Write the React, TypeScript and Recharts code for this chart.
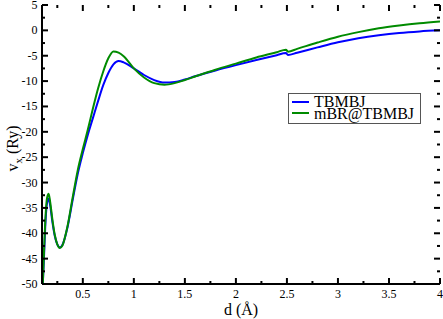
import { LineChart, Line, XAxis, YAxis, Legend } from 'recharts'

const D = [0.108, 0.12, 0.135, 0.15, 0.165, 0.18, 0.2, 0.225, 0.25, 0.275, 0.3, 0.35, 0.4, 0.45, 0.5, 0.55, 0.6, 0.65, 0.7, 0.75, 0.8, 0.85, 0.9, 1.0, 1.1, 1.2, 1.3, 1.4, 1.5, 1.6, 1.8, 2.0, 2.2, 2.4, 2.49, 2.51, 2.6, 2.8, 3.0, 3.2, 3.4, 3.6, 3.8, 4.0]

const TBMBJ = [-50, -44.5, -37.5, -34, -33.2, -34.5, -37.5, -40.5, -42.2, -42.8, -42.3, -38.8, -33.5, -28.3, -24.2, -20.5, -17.2, -13.9, -10.8, -8.4, -6.7, -6.05, -6.3, -7.5, -8.8, -9.8, -10.3, -10.2, -9.7, -9.05, -7.9, -6.85, -5.85, -4.9, -4.45, -4.85, -4.4, -3.35, -2.35, -1.55, -0.95, -0.5, -0.2, 0]

const MBR = [-50, -43.5, -36.5, -33, -32.2, -33.8, -37, -40.3, -42.2, -42.9, -42.4, -38.6, -33, -27.6, -23.4, -19.5, -15.3, -11.4, -8.1, -5.5, -4.15, -4.4, -5.1, -7.5, -9.3, -10.4, -10.7, -10.4, -9.8, -9.1, -7.75, -6.55, -5.35, -4.3, -3.8, -4.2, -3.65, -2.4, -1.25, -0.35, 0.4, 0.95, 1.4, 1.75]

const X_TICKS = [0.25, 0.5, 0.75, 1, 1.25, 1.5, 1.75, 2, 2.25, 2.5, 2.75, 3, 3.25, 3.5, 3.75, 4]
const Y_TICKS = [-50, -47.5, -45, -42.5, -40, -37.5, -35, -32.5, -30, -27.5, -25, -22.5, -20, -17.5, -15, -12.5, -10, -7.5, -5, -2.5, 0, 2.5, 5]

const SERIES = [
  { key: 'tbmbj', name: 'TBMBJ', color: '#0000ff' },
  { key: 'mbr', name: 'mBR@TBMBJ', color: '#008b00' },
]

const W = 443
const H = 319
const TOP = 5
const LEFT = 42
const RIGHT = 440
const FONT = '"Liberation Serif", "Times New Roman", serif'

const data = D.map((d, i) => ({ d, tbmbj: TBMBJ[i], mbr: MBR[i] }))

const isMajor = (v: number, step: number) => Math.abs(v / step - Math.round(v / step)) < 1e-6

function XTick({ x, y, payload }: any) {
  const v = payload.value
  const major = isMajor(v, 0.5)
  const len = major ? 6 : 3
  return (
    <g>
      <line x1={x} x2={x} y1={y} y2={y - len} stroke="#000" strokeWidth={2} />
      <line x1={x} x2={x} y1={TOP} y2={TOP + len} stroke="#000" strokeWidth={2} />
      {major && (
        <text x={x} y={y + 13.5} textAnchor="middle" fontSize={12} fontFamily={FONT} fill="#000">
          {String(v)}
        </text>
      )}
    </g>
  )
}

function YTick({ x, y, payload }: any) {
  const v = payload.value
  const major = isMajor(v, 5)
  const len = major ? 6 : 3
  return (
    <g>
      <line x1={x} x2={x + len} y1={y} y2={y} stroke="#000" strokeWidth={2} />
      <line x1={RIGHT - len} x2={RIGHT} y1={y} y2={y} stroke="#000" strokeWidth={2} />
      {major && (
        <text x={x - 4.5} y={y + 4} textAnchor="end" fontSize={12} fontFamily={FONT} fill="#000">
          {String(v)}
        </text>
      )}
    </g>
  )
}

function YLabel({ viewBox }: any) {
  const cy = viewBox.y + viewBox.height / 2 + 4
  const cx = 17.5
  return (
    <text
      x={cx}
      y={cy}
      transform={`rotate(-90, ${cx}, ${cy})`}
      textAnchor="middle"
      fontSize={16}
      fontFamily={FONT}
      fill="#000"
    >
      v<tspan fontSize={11} dy={4}>x</tspan>
      <tspan dy={-4}> (Ry)</tspan>
    </text>
  )
}

function LegendBox() {
  return (
    <div
      style={{
        boxSizing: 'border-box',
        width: 133,
        height: 31,
        border: '1px solid #555',
        background: '#fff',
        paddingTop: 2,
        fontFamily: FONT,
        fontSize: 16,
        color: '#000',
      }}
    >
      {SERIES.map(s => (
        <div key={s.key} style={{ display: 'flex', alignItems: 'center', height: 11.6, lineHeight: '11.6px' }}>
          <span style={{ display: 'inline-block', width: 17, height: 2, background: s.color, marginLeft: 3, marginRight: 5 }} />
          <span>{s.name}</span>
        </div>
      ))}
    </div>
  )
}

export default function App() {
  return (
    <div style={{ position: 'absolute', left: 0, top: 0, width: W, height: H, background: '#fff' }}>
      <LineChart width={W} height={H} data={data} margin={{ top: TOP, right: W - RIGHT, bottom: 0, left: 0 }}>
        <XAxis
          dataKey="d"
          type="number"
          domain={[0.1, 4]}
          allowDataOverflow
          ticks={X_TICKS}
          interval={0}
          tick={<XTick />}
          tickLine={false}
          tickSize={0}
          tickMargin={0}
          height={35}
          axisLine={{ stroke: '#000', strokeWidth: 2 }}
          label={{ value: 'd (Å)', position: 'insideBottom', offset: 4, fontSize: 16, fontFamily: FONT, fill: '#000' }}
        />
        <XAxis
          xAxisId="top"
          orientation="top"
          type="number"
          domain={[0.1, 4]}
          height={0}
          tick={false}
          tickLine={false}
          axisLine={{ stroke: '#000', strokeWidth: 2 }}
        />
        <YAxis
          type="number"
          domain={[-50, 5]}
          allowDataOverflow
          ticks={Y_TICKS}
          interval={0}
          tick={<YTick />}
          tickLine={false}
          tickSize={0}
          tickMargin={0}
          width={LEFT}
          axisLine={{ stroke: '#000', strokeWidth: 2 }}
          label={<YLabel />}
        />
        <YAxis
          yAxisId="right"
          orientation="right"
          type="number"
          domain={[-50, 5]}
          width={0}
          tick={false}
          tickLine={false}
          axisLine={{ stroke: '#000', strokeWidth: 2 }}
        />
        <Legend
          layout="vertical"
          align="center"
          verticalAlign="middle"
          content={<LegendBox />}
          wrapperStyle={{ position: 'absolute', left: 288, top: 93, width: 133, height: 31 }}
        />
        {SERIES.map(s => (
          <Line
            key={s.key}
            dataKey={s.key}
            name={s.name}
            type="monotone"
            stroke={s.color}
            strokeWidth={2}
            dot={false}
            isAnimationActive={false}
          />
        ))}
      </LineChart>
    </div>
  )
}
